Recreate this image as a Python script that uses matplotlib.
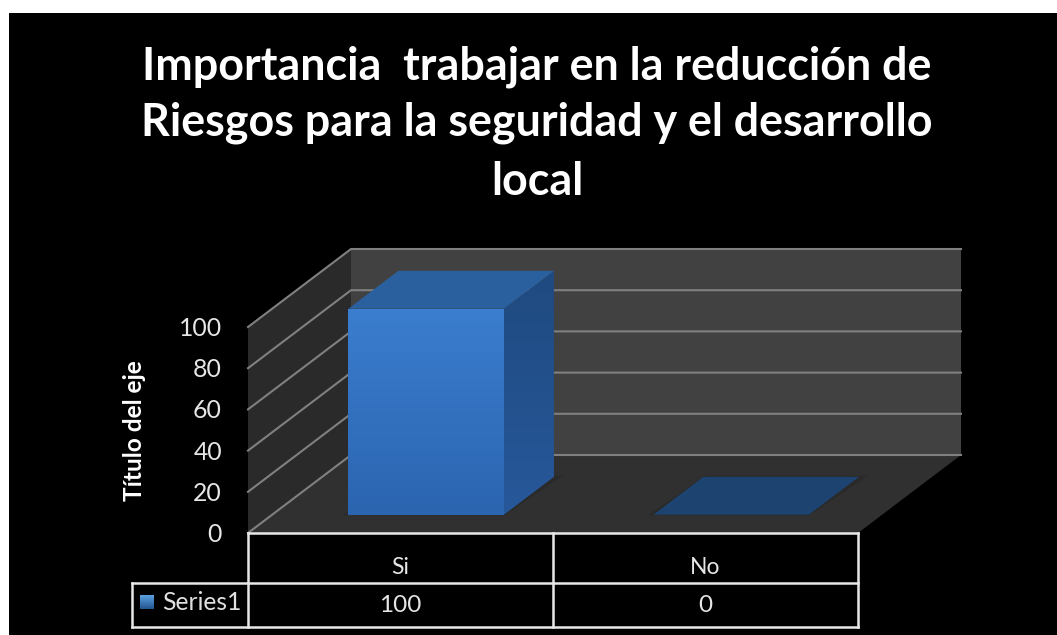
import numpy as np
from matplotlib import pyplot as plt
from matplotlib.colors import LinearSegmentedColormap
from matplotlib.patches import Polygon, Rectangle

# Datos
categories = ['Si', 'No']
values = [100, 0]
series_name = 'Series1'
y_ticks = [0, 20, 40, 60, 80, 100]
title_lines = ['Importancia  trabajar en la reducción de',
               'Riesgos para la seguridad y el desarrollo',
               'local']
y_title = 'Título del eje'

plt.rcParams['font.family'] = ['Lato', 'DejaVu Sans']

# geometria del grafico 3D en pixeles
x0, y0 = 248, 533
cat_w = 305
val_h = 206 / 100
dx, dy = 103, -78
y_top = 100


def pr(c, v, d):
    # categoria, valor, profundidad -> pixel
    return (x0 + c * cat_w + d * dx, y0 - v * val_h + d * dy)


def poly(ax, pts, color, z=2):
    p = Polygon(pts, closed=True, facecolor=color, edgecolor='none', zorder=z)
    ax.add_patch(p)
    return p


def grad_poly(ax, pts, c1, c2, z, horizontal=False):
    # poligono con degradado
    p = Polygon(pts, closed=True, facecolor='none', edgecolor='none', zorder=z)
    ax.add_patch(p)
    xs = [a[0] for a in pts]
    ys = [a[1] for a in pts]
    cmap = LinearSegmentedColormap.from_list('g', [c1, c2])
    g = np.linspace(0, 1, 64)
    g = g.reshape(1, -1) if horizontal else g.reshape(-1, 1)
    im = ax.imshow(g, extent=(min(xs), max(xs), max(ys), min(ys)), cmap=cmap,
                   aspect='auto', zorder=z, interpolation='bilinear')
    im.set_clip_path(p)


n = len(categories)
fig = plt.figure(figsize=(10.57, 6.35), dpi=100, facecolor='white')
ax = fig.add_axes([0, 0, 1, 1])

# fondo negro con margen blanco arriba e izquierda
ax.add_patch(Rectangle((9, 13), 1057 - 9, 635 - 13, facecolor='black', edgecolor='none', zorder=0))

# paredes y suelo
poly(ax, [pr(0, 0, 1), pr(n, 0, 1), pr(n, y_top, 1), pr(0, y_top, 1)], '#414141', 1)
poly(ax, [pr(0, 0, 0), pr(0, 0, 1), pr(0, y_top, 1), pr(0, y_top, 0)], '#2a2a2a', 1)
poly(ax, [pr(0, 0, 0), pr(n, 0, 0), pr(n, 0, 1), pr(0, 0, 1)], '#303030', 1)

# rejilla
for t in y_ticks:
    a, b, c = pr(0, t, 0), pr(0, t, 1), pr(n, t, 1)
    ax.plot([a[0], b[0], c[0]], [a[1], b[1], c[1]], color='#808080', lw=1.5, zorder=1.5,
            solid_joinstyle='miter')
    ax.text(a[0] - 26, a[1] + 1.5, str(t), color='#e6e6e6', fontsize=17.8, ha='right', va='center', zorder=5)

# barras
d1, d2 = 0.235, 0.72
for i, v in enumerate(values):
    l, r = i + 0.25, i + 0.76
    # sombra en el suelo
    poly(ax, [pr(l - 0.015, 0, d1 - 0.005), pr(r + 0.005, 0, d1 - 0.005),
              pr(r + 0.025, 0, d2 + 0.015), pr(l, 0, d2 + 0.015)], '#2a2a2a', 2)
    if v == 0:
        poly(ax, [pr(l, 0, d1), pr(r, 0, d1), pr(r, 0, d2), pr(l, 0, d2)], '#1d4370', 3)
        continue
    grad_poly(ax, [pr(r, 0, d1), pr(r, 0, d2), pr(r, v, d2), pr(r, v, d1)], '#1f4a80', '#27589a', 3)
    poly(ax, [pr(l, v, d1), pr(r, v, d1), pr(r, v, d2), pr(l, v, d2)], '#2b609f', 3)
    grad_poly(ax, [pr(l, 0, d1), pr(r, 0, d1), pr(r, v, d1), pr(l, v, d1)], '#3b7dce', '#2b65b0', 4)

# tabla de datos
tc = '#e8e8e8'
row1, row2 = 583, 627
leg_x = 132
ax.plot([x0, x0 + n * cat_w], [y0, y0], color=tc, lw=1.8, zorder=5)
ax.plot([leg_x, x0 + n * cat_w], [row1, row1], color=tc, lw=1.8, zorder=5)
ax.plot([leg_x, x0 + n * cat_w], [row2, row2], color=tc, lw=1.8, zorder=5)
ax.plot([leg_x, leg_x], [row1, row2], color=tc, lw=1.8, zorder=5)
for i in range(n + 1):
    ax.plot([x0 + i * cat_w] * 2, [y0, row2], color=tc, lw=1.8, zorder=5)
for i, (c, v) in enumerate(zip(categories, values)):
    xm = x0 + (i + 0.5) * cat_w
    ax.text(xm, 568, c, color='#e6e6e6', fontsize=16.5, ha='center', va='center', zorder=6)
    ax.text(xm, 605, str(v), color='#e6e6e6', fontsize=17.5, ha='center', va='center', zorder=6)

# leyenda dentro de la tabla
grad_poly(ax, [(140, 595), (154, 595), (154, 609), (140, 609)], '#5aa0e0', '#24558f', 6)
ax.text(162, 603, series_name, color='#e0e0e0', fontsize=17.7, ha='left', va='center', zorder=6)

# titulos
for line, yy in zip(title_lines, [79, 136, 195]):
    ax.text(537, yy, line, color='white', fontsize=32.3, fontweight='bold', ha='center', va='baseline', zorder=6)
ax.text(135, 431, y_title, color='white', fontsize=17.6, fontweight='bold', rotation=90,
        ha='center', va='center', zorder=6)

ax.set_xlim(0, 1057)
ax.set_ylim(635, 0)
ax.axis('off')

fig.savefig('out.png', dpi=100, facecolor='white')
